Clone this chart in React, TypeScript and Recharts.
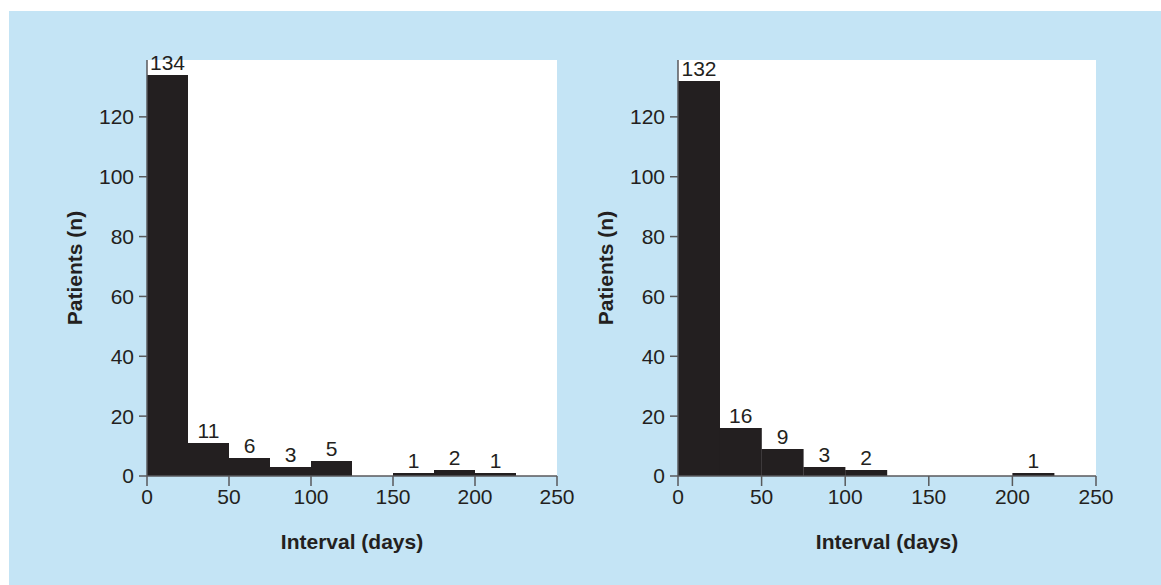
import React from "react";
import { BarChart, Bar, XAxis, YAxis, LabelList, Label } from "recharts";

// 25-day bins from 0 to 250
const binLabels = ["0-25", "25-50", "50-75", "75-100", "100-125", "125-150", "150-175", "175-200", "200-225", "225-250"];
const binMids = [12.5, 37.5, 62.5, 87.5, 112.5, 137.5, 162.5, 187.5, 212.5, 237.5];
const leftCounts = [134, 11, 6, 3, 5, 0, 1, 2, 1, 0];
const rightCounts = [132, 16, 9, 3, 2, 0, 0, 0, 1, 0];
const xTicks = [0, 50, 100, 150, 200, 250];
const yTicks = [0, 20, 40, 60, 80, 100, 120];

const FONT = '"Liberation Sans", Arial, Helvetica, sans-serif';
const INK = "#231f20";
const AXIS = "#58595b";
const FS = 21;

const YTitle = ({ viewBox }: any) => {
  const cx = viewBox.x + viewBox.width - 72;
  const cy = viewBox.y + viewBox.height / 2;
  return (
    <text
      x={cx}
      y={cy}
      transform={`rotate(-90, ${cx}, ${cy})`}
      textAnchor="middle"
      dy="0.35em"
      fontSize={FS}
      fontWeight="bold"
      fill={INK}
      fontFamily={FONT}
    >
      Patients (n)
    </text>
  );
};

const XTitle = ({ viewBox }: any) => (
  <text
    x={viewBox.x + viewBox.width / 2}
    y={viewBox.y + 66}
    textAnchor="middle"
    dy="0.35em"
    fontSize={FS}
    fontWeight="bold"
    fill={INK}
    fontFamily={FONT}
  >
    Interval (days)
  </text>
);

const Histogram = ({ counts, width, margin }: any) => {
  const data = binLabels.map((bin, i) => ({ bin, mid: binMids[i], n: counts[i] }));
  return (
    <BarChart width={width} height={574} data={data} margin={margin} barCategoryGap={0} barGap={0}>
      <rect x={margin.left + 60} y={margin.top} width={width - margin.left - 60 - margin.right} height={416} fill="#fff" />
      <XAxis xAxisId="bins" dataKey="bin" type="category" hide height={0} />
      <XAxis
        xAxisId="days"
        dataKey="mid"
        type="number"
        domain={[0, 250]}
        ticks={xTicks}
        height={40}
        stroke={AXIS}
        strokeWidth={1.5}
        tickSize={10}
        tickMargin={3}
        tick={{ fontSize: FS, fill: INK, fontFamily: FONT }}
        allowDataOverflow
      >
        <Label content={<XTitle />} />
      </XAxis>
      <YAxis
        domain={[0, 139]}
        ticks={yTicks}
        width={60}
        stroke={AXIS}
        strokeWidth={1.5}
        tickSize={8}
        tickMargin={5}
        tick={{ fontSize: FS, fill: INK, fontFamily: FONT }}
        allowDataOverflow
      >
        <Label content={<YTitle />} />
      </YAxis>
      <Bar xAxisId="bins" dataKey="n" fill={INK} isAnimationActive={false}>
        <LabelList
          dataKey="n"
          position="top"
          formatter={(v: any) => (v ? v : "")}
          style={{ fontSize: FS, fill: INK, fontFamily: FONT }}
        />
      </Bar>
    </BarChart>
  );
};

export default function App() {
  return (
    <div
      style={{
        position: "absolute",
        left: 9,
        top: 11,
        width: 1152,
        height: 574,
        background: "#c4e4f5",
        fontFamily: FONT,
      }}
    >
      <div style={{ position: "absolute", left: 0, top: 0 }}>
        <Histogram counts={leftCounts} width={580} margin={{ top: 49, right: 32, bottom: 69, left: 78 }} />
      </div>
      <div style={{ position: "absolute", left: 580, top: 0 }}>
        <Histogram counts={rightCounts} width={572} margin={{ top: 49, right: 65, bottom: 69, left: 29 }} />
      </div>
    </div>
  );
}
